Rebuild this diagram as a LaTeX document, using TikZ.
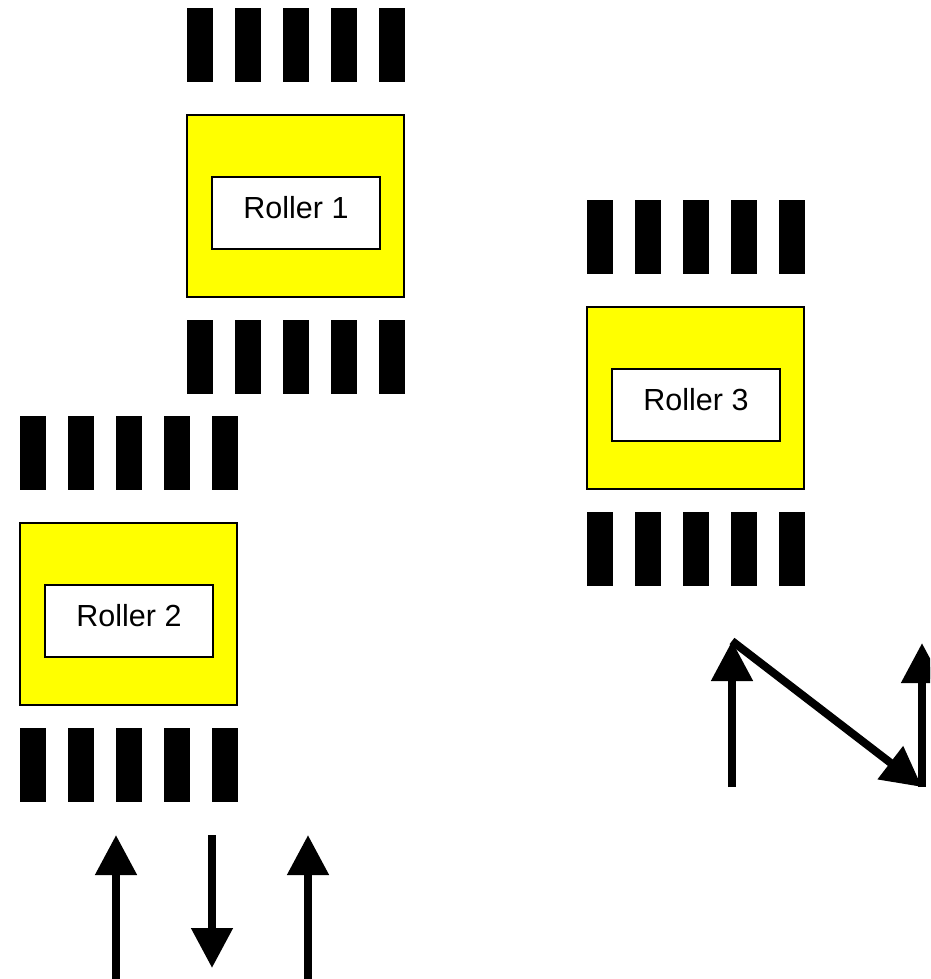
\documentclass[tikz,border=0pt]{standalone}
\usepackage{fontspec}
\setmainfont{Liberation Sans}
\usetikzlibrary{arrows.meta}
\definecolor{rollyellow}{HTML}{FFFF00}
\tikzset{
  bar/.style={fill=black,draw=none,minimum width=26pt,minimum height=74pt,inner sep=0pt,outer sep=0pt,anchor=north west},
  rollbox/.style={fill=rollyellow,draw=black,line width=1.5pt,minimum width=217pt,minimum height=182pt,inner sep=0pt,outer sep=0pt,anchor=north west},
  labbox/.style={fill=white,draw=black,line width=1.5pt,minimum width=168pt,minimum height=72pt,inner sep=0pt,outer sep=0pt,anchor=north west},
  labtext/.style={font=\fontsize{30.5}{36}\selectfont,inner sep=0pt,anchor=base},
  flow/.style={line width=8pt,-{Triangle[length=40pt,width=40pt]}},
}
\begin{document}
\begin{tikzpicture}[x=1pt,y=-1pt]
\clip (0,0) rectangle (930,979);
\fill[white] (0,0) rectangle (930,979);
% Roller groups
\foreach \n/\ox/\oy in {1/187/115, 2/20/523, 3/587/307}{
  \foreach \i in {0,...,4}{
    \node[bar] (r\n t\i) at (\ox+\i*48,\oy-107) {};
    \node[bar] (r\n b\i) at (\ox+\i*48,\oy+205) {};
  }
  \node[rollbox] (r\n box) at (\ox,\oy) {};
  \node[labbox] (r\n lab) at (\ox+25,\oy+62) {};
  \node[labtext] (r\n txt) at (\ox+109,\oy+103) {Roller \n};
}
% bottom-left arrows
\coordinate (a1s) at (116,979); \coordinate (a1e) at (116,835);
\coordinate (a2s) at (212,835); \coordinate (a2e) at (212,968);
\coordinate (a3s) at (308,979); \coordinate (a3e) at (308,835);
\draw[flow] (a1s) -- (a1e);
\draw[flow] (a2s) -- (a2e);
\draw[flow] (a3s) -- (a3e);
% right arrows
\coordinate (b1s) at (732,787); \coordinate (b1e) at (732,641);
\coordinate (b2s) at (922,787); \coordinate (b2e) at (922,643);
\draw[flow] (b1s) -- (b1e);
\draw[flow] (b1e) -- (b2s);
\draw[flow] (b2s) -- (b2e);
\end{tikzpicture}
\end{document}
